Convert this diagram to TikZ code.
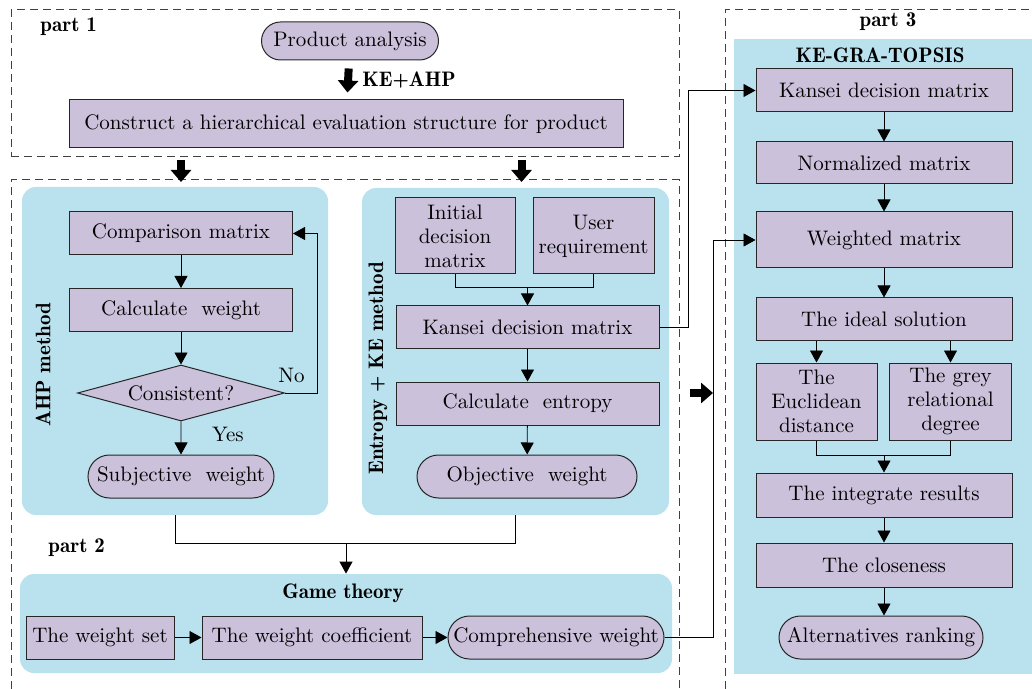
\documentclass[tikz,border=0pt]{standalone}
\usetikzlibrary{arrows.meta,shapes.geometric,shapes.misc,positioning}

\definecolor{boxfill}{RGB}{203,193,219}
\definecolor{panelfill}{RGB}{186,225,238}

\tikzstyle{stepbox}=[
    rectangle,
    draw=black!85,
    line width=0.5pt,
    fill=boxfill,
    align=center,
    inner sep=1pt,
    minimum height=21.5pt
]
\tikzstyle{pill}=[
    rounded rectangle,
    draw=black!85,
    line width=0.5pt,
    fill=boxfill,
    inner sep=1pt,
    minimum height=21.5pt
]
\tikzstyle{decision}=[
    diamond,
    aspect=3.7,
    draw=black!85,
    line width=0.5pt,
    fill=boxfill,
    inner sep=0pt,
    minimum width=103.5pt,
    minimum height=28pt
]
\tikzstyle{panel}=[
    rectangle,
    fill=panelfill,
    rounded corners=7pt,
    inner sep=0pt
]
\tikzstyle{frame}=[
    dash pattern=on 4pt off 2.5pt,
    draw=black!75,
    line width=0.5pt
]
\tikzstyle{title}=[font=\fontsize{10.5}{12}\fontseries{b}\selectfont, inner sep=0pt]
\tikzstyle{bigarrow}=[line width=4pt, -{Triangle[length=6pt,width=10pt]}]

\begin{document}
\begin{tikzpicture}[x=0.5pt,y=-0.5pt,>={Triangle[length=6pt,width=6.5pt]},
    font=\fontsize{10.5}{12}\selectfont]
    \useasboundingbox (0,0) rectangle (1032,689);

    % PART 1
    \node (part1) [frame, rectangle, minimum width=334pt, minimum height=73.5pt] at (345,83.5) {};
    \node (lab1) [title, anchor=west] at (40,27) {part 1};
    \node (prod) [pill, minimum width=90.5pt, minimum height=19pt] at (350,41) {Product analysis};
    \node (construct) [stepbox, minimum width=277pt, minimum height=24pt] at (346,124)
        {Construct a hierarchical evaluation structure for product};
    \node (keahp) [title, anchor=west] at (362,80) {KE+AHP};

    % PART 2
    \draw[frame] (11,689) -- (11,180) coordinate (part2nw) -- (679,180) coordinate (part2ne) -- (679,689);
    \node (ahpbox) [panel, minimum width=153pt, minimum height=164pt] at (175,351) {};
    \node (entbox) [panel, minimum width=153.5pt, minimum height=163.5pt] at (515.5,351.5) {};
    \node (gamebox) [panel, minimum width=326pt, minimum height=49.5pt] at (346,623.5) {};
    \node (lab2) [title, anchor=west] at (48,548) {part 2};

    % AHP
    \node (ahplab) [title, rotate=90] at (43,365) {AHP method};
    \node (cmp) [stepbox, minimum width=111.5pt] at (181,233.5) {Comparison matrix};
    \node (calc) [stepbox, minimum width=111.5pt] at (181,310) {Calculate\ \ weight};
    \node (cons) [decision] at (181,393) {Consistent?};
    \node (subj) [pill, minimum width=95pt] at (181,476.5) {Subjective\ \ weight};

    % ENTROPY + KE
    \node (entlab) [title, rotate=90] at (378,368) {Entropy + KE method};
    \node (init) [stepbox, minimum width=60pt, minimum height=38pt] at (455,236) {Initial\\decision\\matrix};
    \node (user) [stepbox, minimum width=60.5pt, minimum height=38pt] at (593.5,236) {User\\requirement};
    \node (kd) [stepbox, minimum width=131.5pt] at (527.5,327.5) {Kansei decision matrix};
    \node (ent) [stepbox, minimum width=131.5pt] at (527.5,403.5) {Calculate\ \ entropy};
    \node (obj) [pill, minimum width=112pt] at (527,476.5) {Objective\ \ weight};
    \coordinate (kdjoin) at (527.5,287);

    % GAME THEORY
    \node (gamelab) at (343,593) [title] {Game theory};
    \node (wset) [stepbox, minimum width=74pt] at (100,637.5) {The weight set};
    \node (coef) [stepbox, minimum width=110pt] at (312,637.5) {The weight coefficient};
    \node (comp) [pill, minimum width=110pt] at (556,637.5) {Comprehensive weight};
    \coordinate (gamejoin) at (346,543);

    % PART 3
    \draw[frame] (725,689) -- (725,10) coordinate (part3nw) -- (1032,10);
    \node (topsisbox) [rectangle, fill=panelfill, minimum width=149pt, minimum height=317.5pt, inner sep=0pt] at (883,356.5) {};
    \node (lab3) [title] at (888,22) {part 3};
    \node (topsislab) [title] at (880,55) {KE-GRA-TOPSIS};
    \node (kr) [stepbox, minimum width=128pt] at (884,90.5) {Kansei decision matrix};
    \node (norm) [stepbox, minimum width=128pt, minimum height=21pt] at (884,163) {Normalized matrix};
    \node (wm) [stepbox, minimum width=128pt, minimum height=28pt] at (884,240) {Weighted matrix};
    \node (ideal) [stepbox, minimum width=128pt] at (884,319.5) {The ideal solution};
    \node (eucl) [stepbox, minimum width=60.5pt, minimum height=38.5pt] at (816.5,401.5) {The\\Euclidean\\distance};
    \node (grey) [stepbox, minimum width=61pt, minimum height=38.5pt] at (950.5,401.5) {The grey\\relational\\degree};
    \node (integ) [stepbox, minimum width=128pt, minimum height=22pt] at (884,495) {The integrate results};
    \node (close) [stepbox, minimum width=128pt, minimum height=22pt] at (884,565) {The closeness};
    \node (rank) [pill, minimum width=104pt] at (881,637.5) {Alternatives ranking};
    \coordinate (trjoin) at (884,455);

    % Big arrows
    \draw[bigarrow, shorten <=4pt, shorten >=3.5pt] (prod) -- (construct);
    \draw[bigarrow] ([yshift=-1.5pt]part1.south -| cmp) -- ([yshift=-1pt]part2nw -| cmp);
    \draw[bigarrow] ([yshift=-1.5pt,xshift=-3pt]part1.south -| kd) -- ([yshift=-1pt,xshift=-3pt]part2nw -| kd);
    \draw[bigarrow] ([xshift=5.5pt]part2ne |- cons) -- ([xshift=-6pt]part3nw |- cons);

    % AHP connections
    \draw[->] (cmp) -- (calc);
    \draw[->] (calc) -- (cons);
    \draw[->] (cons) -- node[right, xshift=12pt, yshift=2pt] {Yes} (subj);
    \draw[->] (cons.east) -- ++(32,0) node[above left, inner sep=1pt, xshift=-5pt, yshift=4pt] {No} |- (cmp.east);

    % Entropy connections
    \draw (init.south) |- (kdjoin);
    \draw (user.south) |- (kdjoin);
    \draw[->] (kdjoin) -- (kd);
    \draw[->] (kd) -- (ent);
    \draw[->] (ent) -- (obj);

    % Panels to game theory
    \draw (ahpbox.south) |- (gamejoin);
    \draw (entbox.south) |- (gamejoin);
    \draw[->] (gamejoin) -- (gamebox.north);
    \draw[->] (wset) -- (coef);
    \draw[->] (coef) -- (comp);

    % Links into part 3
    \draw[->] (kd.east) -- ++(29,0) |- (kr.west);
    \draw[->] (comp.east) -- ++(49,0) |- (wm.west);

    % TOPSIS connections
    \draw[->] (kr) -- (norm);
    \draw[->] (norm) -- (wm);
    \draw[->] (wm) -- (ideal);
    \draw[->] (ideal.south -| eucl) -- (eucl);
    \draw[->] (ideal.south -| grey) -- (grey);
    \draw (eucl.south) |- (trjoin);
    \draw (grey.south) |- (trjoin);
    \draw[->] (trjoin) -- (integ);
    \draw[->] (integ) -- (close);
    \draw[->] (close) -- (close |- rank.north);
\end{tikzpicture}
\end{document}
